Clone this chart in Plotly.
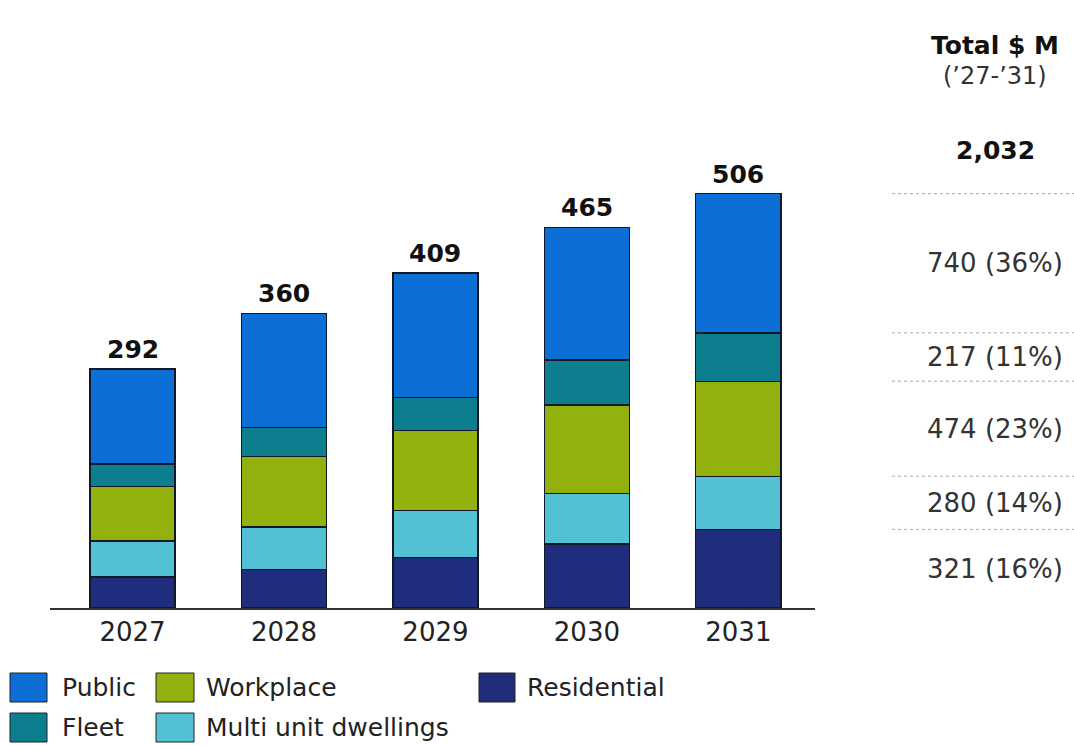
import plotly.graph_objects as go

# EV charging investment by segment, $ M per year
years = ["2027", "2028", "2029", "2030", "2031"]
residential = [38, 47, 62, 78, 96]
multi_unit = [44, 52, 57, 62, 65]
workplace = [66, 86, 98, 108, 116]
fleet = [28, 35, 40, 55, 59]
public = [116, 140, 152, 162, 170]

# stack order, bottom to top
series_names = ["Residential", "Multi unit dwellings", "Workplace", "Fleet", "Public"]
series_values = [residential, multi_unit, workplace, fleet, public]
series_colors = ["#1f2d7c", "#52c1d4", "#93b10e", "#0d7e8e", "#0b6fd6"]

W, H = 1074, 745
L, R, T, B = 50, 259, 149, 137
PW, PH = W - L - R, H - T - B


def fx(px):
    return (px - L) / PW


def fy(py):
    return (H - B - py) / PH


fig = go.Figure()
for name, vals, col in zip(series_names, series_values, series_colors):
    fig.add_trace(go.Bar(
        x=years, y=vals, name=name,
        marker=dict(color=col, line=dict(color="#111827", width=1.3)),
        showlegend=False,
    ))

totals = [sum(v) for v in zip(*series_values)]
annotations = []
for i, tot in enumerate(totals):
    annotations.append(dict(
        x=i, y=tot, xref="x", yref="y", text=f"<b>{tot}</b>",
        showarrow=False, xanchor="center", yanchor="bottom", yshift=3,
        font=dict(family="DejaVu Sans", size=25, color="#111111"),
    ))

# right-hand summary column: totals over 2027-2031
grand_total = sum(totals)
col_x = fx(995)
header = [
    ("<b>Total $ M</b>", 45, 25, "#111111"),
    ("(’27-’31)", 76, 24, "#333333"),
    (f"<b>{grand_total:,}</b>", 150, 25, "#111111"),
]
for txt, py, size, col in header:
    annotations.append(dict(x=col_x, y=fy(py), xref="paper", yref="paper",
                            text=txt, showarrow=False,
                            xanchor="center", yanchor="middle",
                            font=dict(family="DejaVu Sans", size=size, color=col)))

# rows aligned with the segments of the last bar
last = [v[-1] for v in series_values]
shapes = []
cum = 0
bounds = []
for v in last:
    bounds.append((cum, cum + v))
    cum += v
for (lo, hi), vals in zip(bounds, series_values):
    seg_total = sum(vals)
    pct = round(100 * seg_total / grand_total)
    annotations.append(dict(
        x=col_x, y=(lo + hi) / 2, xref="paper", yref="y",
        text=f"{seg_total} ({pct}%)", showarrow=False,
        xanchor="center", yanchor="middle",
        font=dict(family="DejaVu Sans", size=26, color="#333333"),
    ))
    if lo > 0:
        shapes.append(dict(type="line", xref="paper", yref="y",
                           x0=fx(892), x1=fx(1074), y0=lo, y1=lo,
                           line=dict(color="#a8a8a8", width=1, dash="dot")))
shapes.append(dict(type="line", xref="paper", yref="y",
                   x0=fx(892), x1=fx(1074), y0=cum, y1=cum,
                   line=dict(color="#a8a8a8", width=1, dash="dot")))

# legend drawn as swatches with labels
legend_items = [
    ("Public", 10, 47, 673, 702, 60),
    ("Workplace", 156, 194, 673, 702, 204),
    ("Residential", 479, 515, 673, 702, 525),
    ("Fleet", 10, 47, 713, 742, 60),
    ("Multi unit dwellings", 156, 194, 713, 742, 204),
]
color_of = dict(zip(series_names, series_colors))
for name, x0, x1, y0, y1, tx in legend_items:
    shapes.append(dict(type="rect", xref="paper", yref="paper",
                       x0=fx(x0), x1=fx(x1), y0=fy(y1), y1=fy(y0),
                       fillcolor=color_of[name],
                       line=dict(color="#222222", width=1)))
    annotations.append(dict(x=fx(tx), y=fy((y0 + y1) / 2), xref="paper", yref="paper",
                            text=name, showarrow=False,
                            xanchor="left", yanchor="middle",
                            font=dict(family="DejaVu Sans", size=25, color="#222222")))

fig.update_layout(
    width=W, height=H,
    margin=dict(l=L, r=R, t=T, b=B),
    paper_bgcolor="white", plot_bgcolor="white",
    barmode="stack", bargap=0.438,
    xaxis=dict(type="category", range=[-0.545, 4.506], showline=True,
               linecolor="#333333", linewidth=1.5,
               ticks="", showgrid=False, zeroline=False,
               tickfont=dict(family="DejaVu Sans", size=26, color="#222222")),
    yaxis=dict(range=[0, 560.5], visible=False, showgrid=False, zeroline=False),
    annotations=annotations,
    shapes=shapes,
)

fig.write_html("out.html")
